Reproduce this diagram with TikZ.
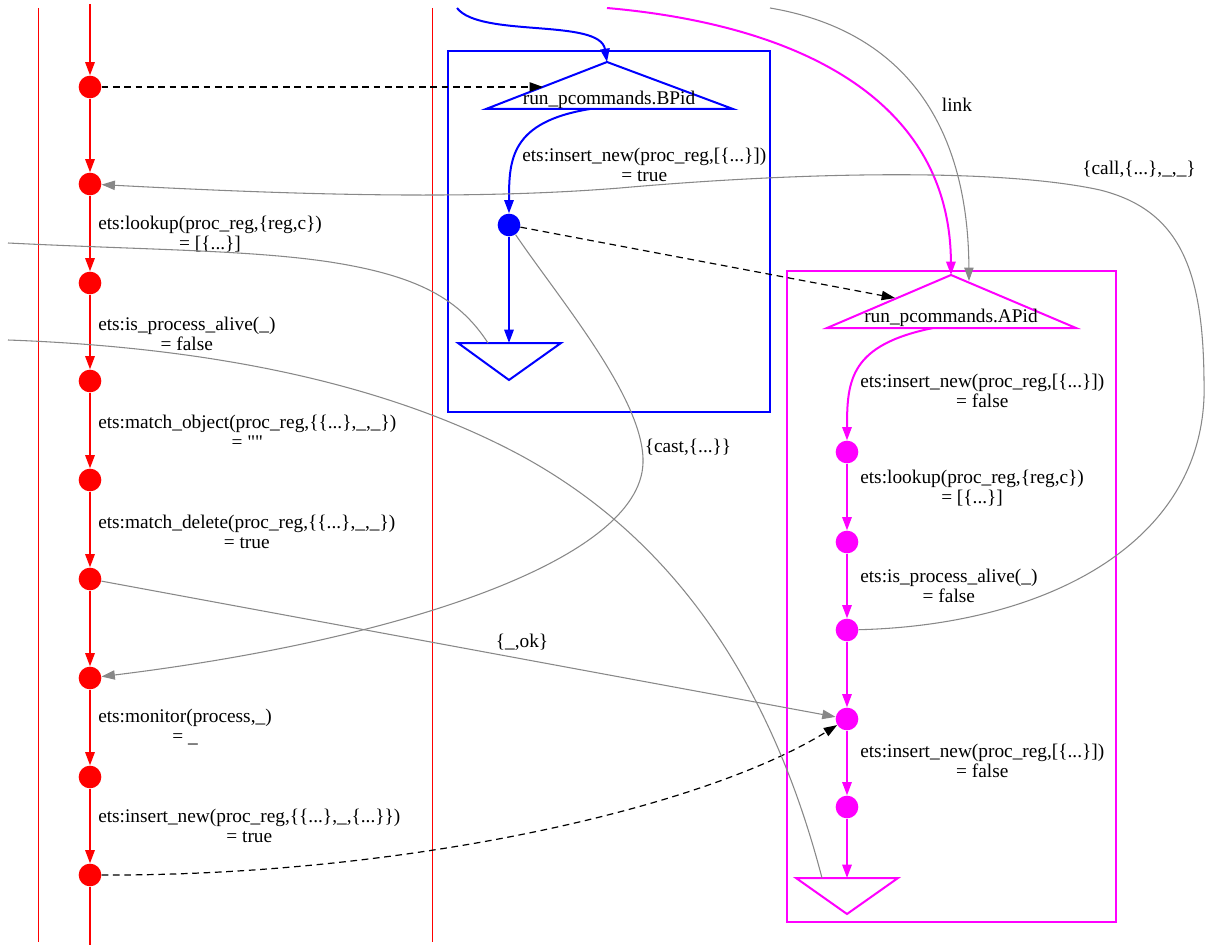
\documentclass[tikz,border=0pt]{standalone}
\usepackage{fontspec}
\setmainfont{Liberation Serif}[Ligatures=TeXOff]
\usetikzlibrary{arrows.meta}
\definecolor{mag}{HTML}{FF00FF}
\definecolor{edgegray}{HTML}{888888}
\begin{document}
\begin{tikzpicture}[x=0.75pt,y=-0.75pt,
  lbl/.style={font={\fontsize{14.5}{15}\selectfont}, align=center, inner sep=0pt},
  tip/.style={-{Triangle[length=10pt,width=7pt]}},
  rdot/.style={circle, fill=red, inner sep=0pt, minimum size=17pt},
  bdot/.style={circle, fill=blue, inner sep=0pt, minimum size=17pt},
  mdot/.style={circle, fill=mag, inner sep=0pt, minimum size=17pt},
  redline/.style={red, line width=1.6pt},
  blueline/.style={blue, line width=1.5pt},
  magline/.style={mag, line width=1.5pt},
  grayline/.style={edgegray, line width=0.8pt},
  dashline/.style={black, line width=0.9pt, dash pattern=on 5pt off 3.5pt},
  clusterline/.style={red, line width=0.75pt}]
\useasboundingbox (0,0) rectangle (1207,945);

% ---------- red lane ----------
\draw[clusterline] (38,8) -- (38,942);
\draw[clusterline] (432,8) -- (432,942);
\foreach \i/\y in {1/87,2/184,3/283,4/381,5/480,6/579,7/678,8/777,9/875}
  \node[rdot] (r\i) at (90,\y) {};
\coordinate (rtop) at (90,4);
\coordinate (rbot) at (90,945);
\draw[redline, tip] (rtop) -- (r1);
\foreach \a/\b in {1/2,2/3,3/4,4/5,5/6,6/7,7/8,8/9}
  \draw[redline, tip] (r\a) -- (r\b);
\draw[redline] (r9) -- (rbot);

\node[lbl, anchor=west] (lr2) at (98,234) {ets:lookup(proc\_reg,\{reg,c\})\\= [\{...\}]};
\node[lbl, anchor=west] (lr3) at (98,334) {ets:is\_process\_alive(\_)\\= false};
\node[lbl, anchor=west] (lr4) at (98,432) {ets:match\_object(proc\_reg,\{\{...\},\_,\_\})\\= ""};
\node[lbl, anchor=west] (lr5) at (98,532) {ets:match\_delete(proc\_reg,\{\{...\},\_,\_\})\\= true};
\node[lbl, anchor=west] (lr7) at (98,727.5) {ets:monitor(process,\_)\\= \_};
\node[lbl, anchor=west] (lr8) at (98,826) {ets:insert\_new(proc\_reg,\{\{...\},\_,\{...\}\})\\= true};

% ---------- blue cluster ----------
\draw[blue, line width=1.3pt] (448,51) rectangle (770,412);
\coordinate (bA) at (607,62);
\coordinate (bL) at (486,109);
\coordinate (bR) at (733,109);
\coordinate (bB) at (590,109);
\draw[blueline, line join=miter] (bA) -- (bR) -- (bL) -- cycle;
\node[lbl, anchor=base] (bPid) at (609,105) {run\_pcommands.BPid};
\coordinate (btop) at (457,8);
\draw[blueline, tip] (btop) .. controls (480,38) and (600,18) .. (bA);
\node[bdot] (b1) at (509,225) {};
\draw[blueline, tip] (bB) .. controls (510,122) and (509,160) .. (b1);
\node[lbl, anchor=west] (lb1) at (522,165) {ets:insert\_new(proc\_reg,[\{...\}])\\= true};
\coordinate (bEt) at (509,343);
\coordinate (bEl) at (458,343);
\coordinate (bEr) at (561,343);
\coordinate (bEa) at (509,380);
\draw[blueline, line join=miter] (bEl) -- (bEr) -- (bEa) -- cycle;
\draw[blueline, tip] (b1) -- (bEt);

% ---------- magenta cluster ----------
\draw[mag, line width=1pt] (787,271) rectangle (1116,922);
\coordinate (mA) at (951,275);
\coordinate (mL) at (827,328);
\coordinate (mR) at (1076,328);
\coordinate (mB) at (933,328);
\draw[magline, line join=miter] (mA) -- (mR) -- (mL) -- cycle;
\node[lbl, anchor=base] (aPid) at (951,322) {run\_pcommands.APid};
\coordinate (mtop) at (607,8);
\draw[magline, tip] (mtop) .. controls (800,25) and (950,100) .. (mA);
\foreach \i/\y in {1/452,2/542,3/630,4/719,5/807}
  \node[mdot] (m\i) at (847,\y) {};
\draw[magline, tip] (mB) .. controls (850,345) and (847,380) .. (m1);
\foreach \a/\b in {1/2,2/3,3/4,4/5}
  \draw[magline, tip] (m\a) -- (m\b);
\coordinate (mEt) at (847,878);
\coordinate (mEl) at (796,878);
\coordinate (mEr) at (898,878);
\coordinate (mEa) at (847,914);
\coordinate (mEg) at (822,878);
\draw[magline, line join=miter] (mEl) -- (mEr) -- (mEa) -- cycle;
\draw[magline, tip] (m5) -- (mEt);
\node[lbl, anchor=west] (lm0) at (860,391) {ets:insert\_new(proc\_reg,[\{...\}])\\= false};
\node[lbl, anchor=west] (lm1) at (860,488) {ets:lookup(proc\_reg,\{reg,c\})\\= [\{...\}]};
\node[lbl, anchor=west] (lm2) at (860,586) {ets:is\_process\_alive(\_)\\= false};
\node[lbl, anchor=west] (lm4) at (860,761) {ets:insert\_new(proc\_reg,[\{...\}])\\= false};

% ---------- dashed messages ----------
\coordinate (bAin) at (543,87);
\coordinate (mAin) at (895,298);
\draw[dashline, tip] (r1) -- (bAin);
\draw[dashline, tip] (b1) -- (mAin);
\draw[dashline, tip] (r9) .. controls (400,876) and (700,810) .. (m4);

% ---------- gray edges ----------
\coordinate (ltop) at (770,8);
\coordinate (lend) at (969,281);
\draw[grayline, tip] (ltop) .. controls (900,30) and (968,120) .. (lend);
\node[lbl, anchor=base] (llink) at (957,112) {link};

\draw[grayline, tip] (m3) .. controls (1050,625) and (1210,540) .. (1204,380)
  .. controls (1203,270) and (1180,210) .. (1100,190)
  .. controls (1000,168) and (800,172) .. (620,188)
  .. controls (470,200) and (300,195) .. (r2);
\node[lbl, anchor=base] (lcall) at (1139,175) {\{call,\{...\},\_,\_\}};

\draw[grayline, tip] (b1) .. controls (560,300) and (645,400) .. (643,463)
  .. controls (640,560) and (400,640) .. (r7);
\node[lbl, anchor=base] (lcast) at (688,452) {\{cast,\{...\}\}};

\draw[grayline, tip] (r6) -- (m4);
\node[lbl, anchor=base] (lok) at (522,647) {\{\_,ok\}};

\coordinate (g3s) at (8,243);
\draw[grayline] (g3s) .. controls (150,250) and (250,250) .. (330,262)
  .. controls (420,276) and (460,300) .. (488,343);
\coordinate (g4s) at (8,340);
\draw[grayline] (g4s) .. controls (200,347) and (380,380) .. (520,455)
  .. controls (640,520) and (760,640) .. (mEg);
\end{tikzpicture}
\end{document}
